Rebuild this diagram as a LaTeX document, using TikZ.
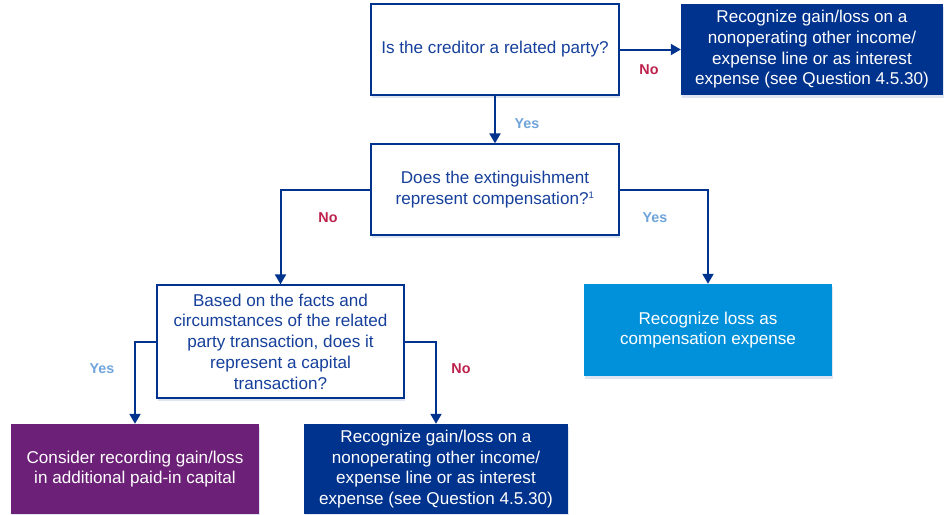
\documentclass[tikz,border=0pt]{standalone}
\usepackage{fontspec}
\setmainfont{Liberation Sans}
\usetikzlibrary{arrows.meta,shadows}

\definecolor{navy}{RGB}{0,51,141}
\definecolor{qtext}{RGB}{22,64,155}
\definecolor{skyblue}{RGB}{0,145,218}
\definecolor{plum}{RGB}{109,32,119}
\definecolor{nored}{RGB}{188,32,75}
\definecolor{yesblue}{RGB}{110,164,218}

\tikzset{
  base/.style={rectangle, align=center, inner sep=0pt,
    font=\fontsize{17.1}{20.7}\selectfont,
    drop shadow={shadow xshift=1pt, shadow yshift=-2.5pt, opacity=0.12, fill=navy}},
  question/.style={base, draw=navy, line width=1.3pt, fill=white, text=qtext},
  outcome/.style={base, fill=#1, text=white},
  link/.style={draw=navy, line width=2pt, -{Triangle[width=11pt,length=10pt]}},
  nolabel/.style={text=nored, font=\fontsize{14.3}{16}\selectfont\bfseries},
  yeslabel/.style={text=yesblue, font=\fontsize{14.3}{16}\selectfont\bfseries},
}

\begin{document}
\begin{tikzpicture}[x=1pt,y=-1pt]
  \useasboundingbox (0,0) rectangle (945,514);

  % decision boxes
  \node[question, minimum width=248pt, minimum height=91pt] (related) at (495,49.5)
    {Is the creditor a related party?};
  \node[question, minimum width=248pt, minimum height=91pt] (comp) at (495,189.5)
    {Does the extinguishment\\represent compensation?\textsuperscript{\fontsize{9.5}{9.5}\selectfont 1}};
  \node[question, minimum width=247pt, minimum height=113pt] (capital) at (280.5,341.5)
    {Based on the facts and\\circumstances of the related\\party transaction, does it\\represent a capital\\transaction?};

  % outcome boxes
  \node[outcome=navy, minimum width=262pt, minimum height=91pt] (nonopTop) at (812,49.5)
    {Recognize gain/loss on a\\nonoperating other income/\\expense line or as interest\\expense (see Question 4.5.30)};
  \node[outcome=skyblue, minimum width=248pt, minimum height=92pt] (compexp) at (708,330)
    {Recognize loss as\\compensation expense};
  \node[outcome=plum, minimum width=248pt, minimum height=90pt] (apic) at (135,469)
    {Consider recording gain/loss\\in additional paid-in capital};
  \node[outcome=navy, minimum width=264pt, minimum height=90pt] (nonopBot) at (436,469)
    {Recognize gain/loss on a\\nonoperating other income/\\expense line or as interest\\expense (see Question 4.5.30)};

  % connectors
  \draw[link] (related.east) -- (nonopTop.west);
  \draw[link] (related.south) -- (comp.north);
  \draw[link] (comp.west) -| (capital.north);
  \draw[link] (comp.east) -| (compexp.north);
  \draw[link] (capital.west) -| (apic.north);
  \draw[link] (capital.east) -| (nonopBot.north);

  % branch labels
  \node[nolabel]  (lNo1)  at (649,70)  {No};
  \node[yeslabel] (lYes1) at (527,124) {Yes};
  \node[nolabel]  (lNo2)  at (328,218) {No};
  \node[yeslabel] (lYes2) at (655,218) {Yes};
  \node[yeslabel] (lYes3) at (102,369) {Yes};
  \node[nolabel]  (lNo3)  at (461,369) {No};
\end{tikzpicture}
\end{document}
